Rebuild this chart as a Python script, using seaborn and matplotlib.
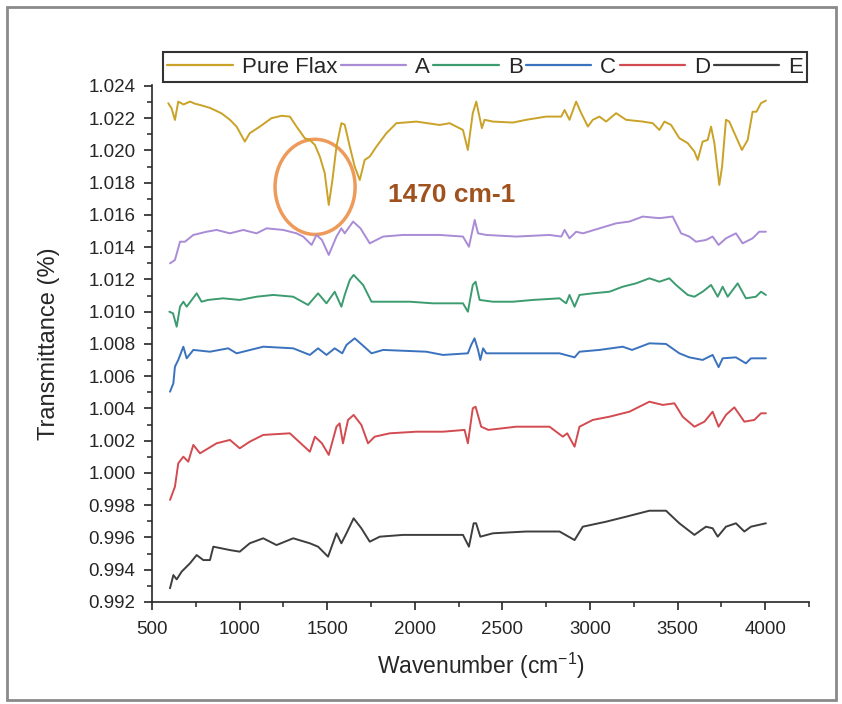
import pandas as pd
import matplotlib
matplotlib.use("Agg")
import matplotlib.pyplot as plt
from matplotlib.patches import Ellipse, Rectangle
import seaborn as sns

# spectra (wavenumber, transmittance)
flax_wn = [593, 612, 631, 650, 680, 717, 745, 774, 831, 897, 945, 983, 1030, 1058, 1116, 1182, 1240, 1287,
           1325, 1372, 1401, 1430, 1458, 1486, 1509, 1530, 1553, 1581, 1600, 1629, 1657, 1686, 1714, 1743,
           1781, 1838, 1895, 2009, 2142, 2199, 2275, 2303, 2331, 2351, 2365, 2383, 2398, 2446, 2560, 2636,
           2750, 2836, 2855, 2883, 2921, 2950, 2988, 3016, 3054, 3092, 3149, 3206, 3301, 3358, 3396, 3425,
           3463, 3510, 3558, 3596, 3615, 3643, 3672, 3691, 3710, 3738, 3754, 3776, 3795, 3833, 3867, 3900,
           3928, 3950, 3976, 4004]
flax_t = [1.02293, 1.02260, 1.02189, 1.02303, 1.02285, 1.02303, 1.02290, 1.02282, 1.02264, 1.02230, 1.02190,
          1.02148, 1.02055, 1.02107, 1.02148, 1.02200, 1.02215, 1.02210, 1.02148, 1.02076, 1.02065, 1.02034,
          1.01962, 1.01859, 1.01662, 1.01817, 1.02024, 1.02169, 1.02160, 1.02024, 1.01900, 1.01817, 1.01941,
          1.01962, 1.02024, 1.02107, 1.02169, 1.02179, 1.02158, 1.02169, 1.02127, 1.02003, 1.02231, 1.02303,
          1.02231, 1.02138, 1.02190, 1.02179, 1.02173, 1.02190, 1.02210, 1.02210, 1.02251, 1.02190, 1.02303,
          1.02231, 1.02148, 1.02190, 1.02210, 1.02179, 1.02231, 1.02190, 1.02179, 1.02169, 1.02127, 1.02179,
          1.02158, 1.02076, 1.02045, 1.01993, 1.01941, 1.02055, 1.02065, 1.02148, 1.02045, 1.01786, 1.01900,
          1.02190, 1.02179, 1.02086, 1.02003, 1.02065, 1.02240, 1.02240, 1.02293, 1.02309]

a_wn = [603, 631, 660, 688, 736, 812, 869, 945, 1021, 1097, 1154, 1249, 1325, 1363, 1411, 1439, 1470, 1509,
        1553, 1581, 1600, 1648, 1690, 1743, 1819, 1933, 2142, 2275, 2309, 2342, 2361, 2408, 2579, 2769, 2836,
        2855, 2883, 2921, 2960, 3054, 3149, 3225, 3301, 3396, 3472, 3520, 3567, 3605, 3662, 3700, 3734, 3776,
        3833, 3871, 3928, 3966, 4004]
a_t = [1.01300, 1.01321, 1.01434, 1.01434, 1.01476, 1.01496, 1.01507, 1.01486, 1.01507, 1.01486, 1.01517,
       1.01507, 1.01486, 1.01466, 1.01414, 1.01476, 1.01445, 1.01352, 1.01466, 1.01517, 1.01486, 1.01559,
       1.01517, 1.01424, 1.01466, 1.01476, 1.01476, 1.01466, 1.01403, 1.01569, 1.01486, 1.01476, 1.01466,
       1.01476, 1.01466, 1.01507, 1.01455, 1.01496, 1.01486, 1.01517, 1.01548, 1.01559, 1.01590, 1.01580,
       1.01590, 1.01486, 1.01466, 1.01434, 1.01445, 1.01466, 1.01414, 1.01455, 1.01486, 1.01424, 1.01455,
       1.01496, 1.01496]

b_wn = [599, 620, 641, 660, 679, 698, 755, 783, 820, 906, 1001, 1097, 1192, 1306, 1391, 1448, 1496, 1543,
        1581, 1600, 1629, 1651, 1705, 1753, 1819, 1971, 2104, 2275, 2303, 2331, 2347, 2370, 2446, 2560, 2674,
        2826, 2864, 2883, 2912, 2940, 3016, 3111, 3187, 3263, 3339, 3396, 3453, 3491, 3558, 3596, 3643, 3691,
        3729, 3757, 3786, 3843, 3890, 3947, 3976, 4004]
b_t = [1.01000, 1.00990, 1.00907, 1.01031, 1.01062, 1.01031, 1.01114, 1.01062, 1.01073, 1.01083, 1.01073,
       1.01093, 1.01104, 1.01093, 1.01042, 1.01114, 1.01052, 1.01124, 1.01031, 1.01104, 1.01197, 1.01228,
       1.01166, 1.01062, 1.01062, 1.01062, 1.01052, 1.01052, 1.01000, 1.01166, 1.01186, 1.01073, 1.01062,
       1.01062, 1.01073, 1.01083, 1.01052, 1.01104, 1.01031, 1.01104, 1.01114, 1.01124, 1.01155, 1.01176,
       1.01207, 1.01186, 1.01207, 1.01166, 1.01104, 1.01093, 1.01124, 1.01166, 1.01093, 1.01155, 1.01093,
       1.01176, 1.01083, 1.01093, 1.01124, 1.01104]

c_wn = [603, 622, 631, 650, 679, 698, 736, 831, 935, 983, 1135, 1306, 1401, 1448, 1496, 1543, 1586, 1610,
        1657, 1700, 1753, 1819, 2066, 2161, 2303, 2322, 2341, 2361, 2374, 2390, 2408, 2579, 2826, 2912, 2940,
        3054, 3187, 3240, 3339, 3434, 3510, 3567, 3643, 3700, 3734, 3757, 3833, 3890, 3919, 4004]
c_t = [1.00504, 1.00556, 1.00659, 1.00701, 1.00783, 1.00711, 1.00763, 1.00752, 1.00773, 1.00742, 1.00783,
       1.00773, 1.00732, 1.00773, 1.00732, 1.00773, 1.00742, 1.00794, 1.00835, 1.00794, 1.00742, 1.00763,
       1.00752, 1.00732, 1.00742, 1.00794, 1.00835, 1.00763, 1.00701, 1.00773, 1.00742, 1.00742, 1.00742,
       1.00717, 1.00752, 1.00763, 1.00783, 1.00763, 1.00804, 1.00800, 1.00742, 1.00717, 1.00701, 1.00732,
       1.00656, 1.00711, 1.00717, 1.00680, 1.00711, 1.00711]

d_wn = [603, 631, 650, 679, 707, 736, 774, 869, 945, 1001, 1058, 1135, 1287, 1401, 1430, 1470, 1509, 1553,
        1571, 1590, 1619, 1651, 1695, 1733, 1771, 1857, 2009, 2161, 2284, 2303, 2331, 2347, 2379, 2420, 2579,
        2769, 2845, 2870, 2912, 2940, 3016, 3111, 3225, 3339, 3415, 3482, 3529, 3596, 3653, 3700, 3734, 3776,
        3824, 3881, 3938, 3976, 4004]
d_t = [0.99833, 0.99915, 1.00060, 1.00101, 1.00070, 1.00174, 1.00122, 1.00184, 1.00205, 1.00153, 1.00194,
       1.00236, 1.00246, 1.00132, 1.00225, 1.00184, 1.00112, 1.00287, 1.00308, 1.00184, 1.00329, 1.00360,
       1.00298, 1.00184, 1.00225, 1.00246, 1.00256, 1.00256, 1.00267, 1.00184, 1.00401, 1.00411, 1.00287,
       1.00267, 1.00287, 1.00287, 1.00225, 1.00246, 1.00163, 1.00287, 1.00329, 1.00349, 1.00380, 1.00442,
       1.00422, 1.00432, 1.00349, 1.00287, 1.00318, 1.00380, 1.00287, 1.00360, 1.00407, 1.00318, 1.00329,
       1.00370, 1.00370]

e_wn = [603, 622, 641, 669, 717, 755, 793, 831, 850, 945, 1001, 1058, 1135, 1211, 1306, 1401, 1448, 1505,
        1553, 1581, 1610, 1651, 1695, 1743, 1800, 1933, 2104, 2275, 2309, 2336, 2350, 2374, 2446, 2636, 2826,
        2912, 2959, 3092, 3206, 3339, 3434, 3510, 3596, 3662, 3700, 3729, 3776, 3833, 3881, 3919, 4004]
e_t = [0.99285, 0.99367, 0.99340, 0.99388, 0.99440, 0.99491, 0.99460, 0.99460, 0.99543, 0.99522, 0.99512,
       0.99564, 0.99595, 0.99553, 0.99595, 0.99564, 0.99543, 0.99481, 0.99626, 0.99564, 0.99626, 0.99719,
       0.99657, 0.99574, 0.99605, 0.99616, 0.99616, 0.99616, 0.99543, 0.99688, 0.99688, 0.99605, 0.99626,
       0.99637, 0.99637, 0.99584, 0.99667, 0.99698, 0.99729, 0.99766, 0.99766, 0.99688, 0.99616, 0.99667,
       0.99657, 0.99605, 0.99667, 0.99688, 0.99637, 0.99667, 0.99688]

samples = ["Pure Flax", "A", "B", "C", "D", "E"]
colors = ["#C9A227", "#A98BD6", "#3C9C70", "#3A72BE", "#D24B50", "#3E3E3E"]

frames = []
for name, wn, t in zip(samples, [flax_wn, a_wn, b_wn, c_wn, d_wn, e_wn],
                       [flax_t, a_t, b_t, c_t, d_t, e_t]):
    frames.append(pd.DataFrame({"wn": wn, "T": t, "sample": name}))
df = pd.concat(frames, ignore_index=True)

sns.set_style("ticks")
plt.rcParams["font.family"] = ["Liberation Sans", "DejaVu Sans"]
plt.rcParams["mathtext.default"] = "regular"

fig, ax = plt.subplots(figsize=(8.42, 7.04), dpi=100)
fig.subplots_adjust(left=0.1805, right=0.9608, bottom=0.1449, top=0.8793)

sns.lineplot(data=df, x="wn", y="T", hue="sample", hue_order=samples,
             palette=dict(zip(samples, colors)), estimator=None, linewidth=1.4, ax=ax)

ax.set_xlim(500, 4250)
ax.set_ylim(0.992, 1.02406)
ax.set_xticks(range(500, 4001, 500))
ax.set_xticks(range(750, 4251, 500), minor=True)
yt = [0.992 + 0.002 * i for i in range(17)]
ax.set_yticks(yt)
ax.set_yticklabels([f"{v:.3f}" for v in yt])
ax.set_yticks([0.993 + 0.002 * i for i in range(16)], minor=True)
ax.tick_params(which="major", direction="out", length=6, width=1.2, labelsize=13.5, pad=6)
ax.tick_params(which="minor", direction="out", length=3.5, width=1.1)
ax.tick_params(axis="x", pad=8)
sns.despine(ax=ax)
for s in ["left", "bottom"]:
    ax.spines[s].set_linewidth(1.2)

ax.set_xlabel("Wavenumber (cm$^{-1}$)", fontsize=16.5, labelpad=9)
ax.set_ylabel("Transmittance (%)", fontsize=17, labelpad=20)

# highlighted peak
ax.add_patch(Ellipse((1431, 1.01774), 457, 0.0059, fill=False, edgecolor="#EE9A5A", linewidth=2.5))
ax.text(1849, 1.01724, "1470 cm-1", fontsize=19, fontweight="bold", color="#A0521E", va="center")

handles, labels = ax.get_legend_handles_labels()
for h in handles:
    h.set_linewidth(1.6)
leg = ax.legend(handles, labels, ncol=6, loc="lower left", bbox_to_anchor=(0.0167, 1.005),
                borderaxespad=0, fontsize=16, handlelength=2.95, handletextpad=0.4,
                columnspacing=0.15, borderpad=0.2, frameon=True, fancybox=False)
leg.get_frame().set_edgecolor("black")
leg.get_frame().set_linewidth(1.5)

fig.patches.append(Rectangle((7 / 842, 4 / 704), 829 / 842, 693 / 704, transform=fig.transFigure,
                             fill=False, edgecolor="#8a8a8a", linewidth=2))

fig.savefig("out.png", dpi=100)
